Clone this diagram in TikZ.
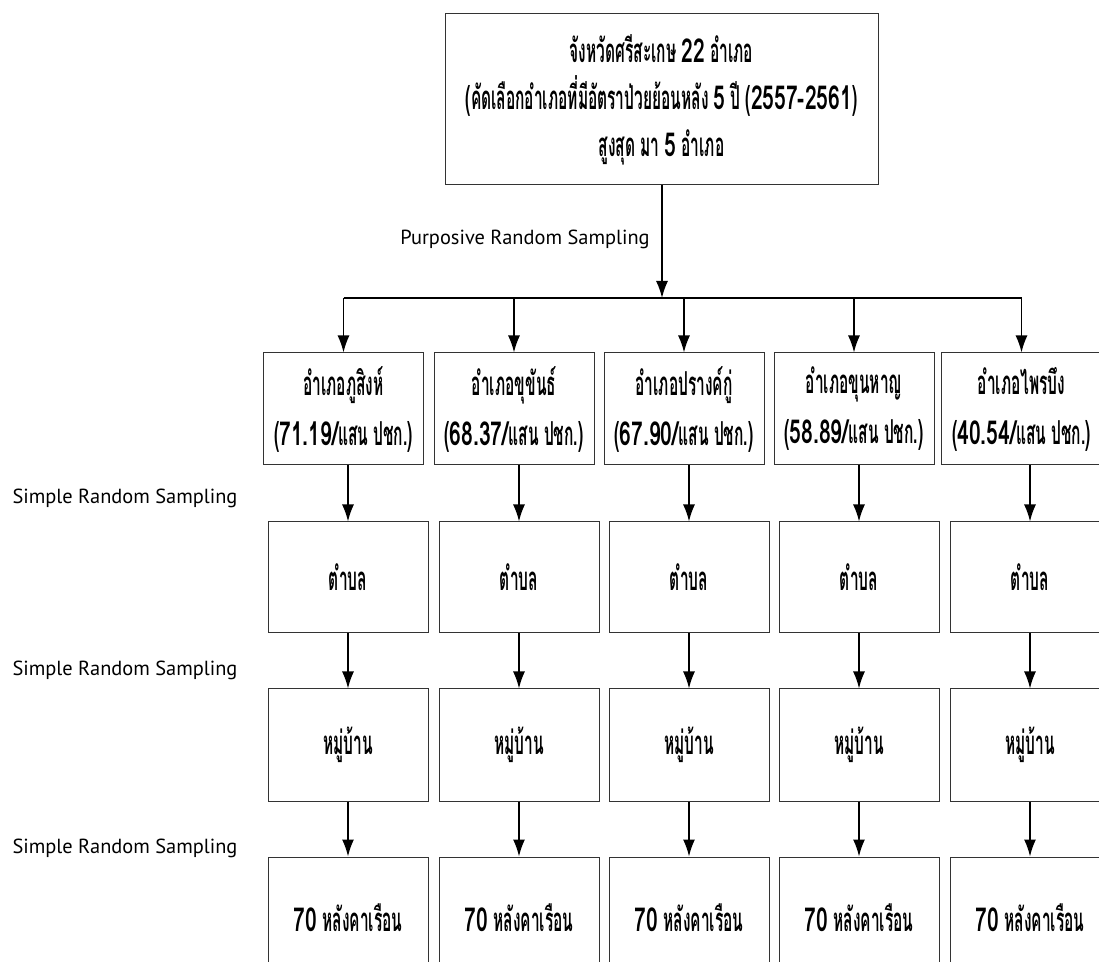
\documentclass[tikz,border=0pt]{standalone}
\usepackage{fontspec}
\setmainfont{PT Sans}
\newfontfamily\thaifont[Script=Thai,FakeStretch=0.47]{Loma}
\newfontfamily\numfont[FakeStretch=0.64]{Loma}
\newcommand{\nm}[1]{{\numfont #1}}
\usetikzlibrary{positioning,arrows.meta}

\tikzset{
  box/.style={draw=black!80, line width=0.5pt, minimum width=80pt, minimum height=56pt,
    inner sep=0pt, align=center, font=\thaifont\bfseries\fontsize{16.5}{25}\selectfont},
  arr/.style={-{Latex[length=8.5pt,width=6pt]}, line width=0.75pt},
  lbl/.style={inner sep=0pt, font=\fontsize{10.2}{12}\selectfont}
}

\begin{document}
\begin{tikzpicture}[x=0.5pt,y=-0.5pt]
\useasboundingbox (0,0) rectangle (1099,962);
\clip (0,0) rectangle (1099,962);

% province box
\node[box, minimum width=216.5pt, minimum height=85.5pt, font=\thaifont\bfseries\fontsize{16.5}{23.5}\selectfont]
  (top) at (661.5,99.5) {จังหวัดศรีสะเกษ \nm{22} อำเภอ\\(คัดเลือกอำเภอที่มีอัตราป่วยย้อนหลัง \nm{5} ปี (\nm{2557-2561})\\สูงสุด มา \nm{5} อำเภอ};

% districts
\node[box] (a1) at (343.5,409) {อำเภอภูสิงห์\\(\nm{71.19/}แสน ปชก.)};
\node[box] (a2) at (514,409) {อำเภอขุขันธ์\\(\nm{68.37/}แสน ปชก.)};
\node[box] (a3) at (684,409) {อำเภอปรางค์กู่\\(\nm{67.90/}แสน ปชก.)};
\node[box] (a4) at (854,409) {อำเภอขุนหาญ\\(\nm{58.89/}แสน ปชก.)};
\node[box] (a5) at (1021.5,409) {อำเภอไพรบึง\\(\nm{40.54/}แสน ปชก.)};

% sub-districts
\node[box, minimum height=55.5pt] (t1) at (348,577.5) {ตำบล};
\node[box, minimum height=55.5pt] (t2) at (519,577.5) {ตำบล};
\node[box, minimum height=55.5pt] (t3) at (689,577.5) {ตำบล};
\node[box, minimum height=55.5pt] (t4) at (859,577.5) {ตำบล};
\node[box, minimum height=55.5pt] (t5) at (1030,577.5) {ตำบล};

% villages
\node[box] (m1) at (348,745) {หมู่บ้าน};
\node[box] (m2) at (519,745) {หมู่บ้าน};
\node[box] (m3) at (689,745) {หมู่บ้าน};
\node[box] (m4) at (859,745) {หมู่บ้าน};
\node[box] (m5) at (1030,745) {หมู่บ้าน};

% households
\node[box, minimum height=61pt] (h1) at (348,918) {\nm{70} หลังคาเรือน};
\node[box, minimum height=61pt] (h2) at (519,918) {\nm{70} หลังคาเรือน};
\node[box, minimum height=61pt] (h3) at (689,918) {\nm{70} หลังคาเรือน};
\node[box, minimum height=61pt] (h4) at (859,918) {\nm{70} หลังคาเรือน};
\node[box, minimum height=61pt] (h5) at (1030,918) {\nm{70} หลังคาเรือน};

% sampling labels
\node[lbl] (p0) at (525,239) {Purposive Random Sampling};
\node[lbl] (s1) at (125,498) {Simple Random Sampling};
\node[lbl] (s2) at (125,670) {Simple Random Sampling};
\node[lbl] (s3) at (125,848) {Simple Random Sampling};

% branching
\coordinate (bar) at (662,298);
\draw[arr] (top.south -| bar) -- (bar);
\draw[line width=1pt] (a1.north |- bar) -- (a5.north |- bar);
\draw[arr] (a1.north |- bar) -- (a1.north);
\draw[arr] (a2.north |- bar) -- (a2.north);
\draw[arr] (a3.north |- bar) -- (a3.north);
\draw[arr] (a4.north |- bar) -- (a4.north);
\draw[arr] (a5.north |- bar) -- (a5.north);

% down the columns
\draw[arr] (t1.north |- a1.south) -- (t1.north);
\draw[arr] (t2.north |- a2.south) -- (t2.north);
\draw[arr] (t3.north |- a3.south) -- (t3.north);
\draw[arr] (t4.north |- a4.south) -- (t4.north);
\draw[arr] (t5.north |- a5.south) -- (t5.north);
\draw[arr] (t1) -- (m1);
\draw[arr] (t2) -- (m2);
\draw[arr] (t3) -- (m3);
\draw[arr] (t4) -- (m4);
\draw[arr] (t5) -- (m5);
\draw[arr] (m1) -- (h1);
\draw[arr] (m2) -- (h2);
\draw[arr] (m3) -- (h3);
\draw[arr] (m4) -- (h4);
\draw[arr] (m5) -- (h5);
\end{tikzpicture}
\end{document}
